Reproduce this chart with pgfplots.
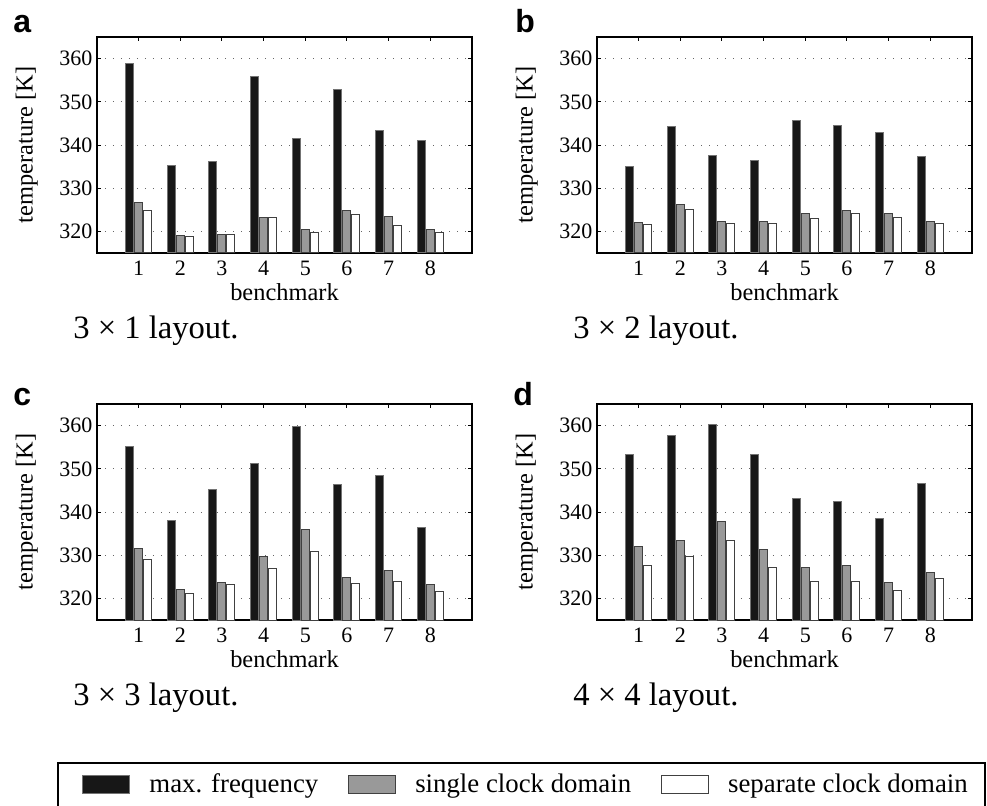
\documentclass[border=0pt]{standalone}
\usepackage{fontspec}
\setmainfont{Liberation Serif}
\setsansfont{Liberation Sans}
\usepackage{pgfplots}
\pgfplotsset{compat=1.18}

% values, in K
% columns: benchmark, max. frequency, single clock domain, separate clock domain
\pgfplotsset{
  panel/.style={
    scale only axis, width=187.5pt, height=108pt, anchor=north west,
    xmin=0, xmax=9, ymin=315, ymax=365,
    xtick={1,...,8}, ytick={320,330,...,360},
    ymajorgrids,
    grid style={black!60, line width=0.5pt, dash pattern=on 0.5pt off 3.5pt},
    tick align=inside, major tick length=2pt,
    tick style={black, line width=0.5pt},
    axis line style={line width=0.8pt},
    /pgf/number format/assume math mode=true,
    tick label style={font=\fontsize{11}{13}\selectfont},
    yticklabel style={xshift=1.2pt},
    xticklabel style={yshift=-0.5pt},
    xlabel={benchmark}, ylabel={temperature [K]},
    every axis x label/.style={at={(axis description cs:0.5,0)},anchor=base,yshift=-23.5pt,font=\fontsize{12.2}{14}\selectfont},
    every axis y label/.style={at={(axis description cs:-0.187,0.5)},rotate=90,anchor=center,font=\fontsize{12.2}{14}\selectfont},
  },
  mf/.style={ybar, bar width=4pt, bar shift=-4.5pt, fill=black!91, draw=black!55, line width=0.5pt},
  sc/.style={ybar, bar width=4pt, bar shift=0pt, fill=black!40, draw=black!75, line width=0.5pt},
  sp/.style={ybar, bar width=4pt, bar shift=4.5pt, fill=white, draw=black!75, line width=0.5pt},
}

\pgfplotstableread{
b  mf     sc     sp
1  358.8  326.6  324.9
2  335.3  319.0  318.8
3  336.2  319.2  319.2
4  355.8  323.2  323.2
5  341.5  320.4  319.7
6  352.8  324.8  324.0
7  343.3  323.4  321.3
8  341.0  320.5  319.7
}\dataA
\pgfplotstableread{
b  mf     sc     sp
1  335.0  322.0  321.5
2  344.2  326.2  325.0
3  337.5  322.2  321.9
4  336.3  322.2  321.8
5  345.6  324.1  322.9
6  344.6  324.8  324.1
7  343.0  324.1  323.2
8  337.3  322.4  321.8
}\dataB
\pgfplotstableread{
b  mf     sc     sp
1  355.1  331.6  328.9
2  338.1  322.1  321.2
3  345.3  323.7  323.3
4  351.3  329.7  327.0
5  359.8  336.0  330.9
6  346.4  324.9  323.5
7  348.4  326.5  324.0
8  336.5  323.2  321.7
}\dataC
\pgfplotstableread{
b  mf     sc     sp
1  353.4  332.0  327.6
2  357.8  333.4  329.8
3  360.3  337.8  333.5
4  353.3  331.3  327.1
5  343.2  327.1  323.9
6  342.5  327.7  324.0
7  338.4  323.7  321.9
8  346.6  326.1  324.6
}\dataD

\begin{document}
\begin{tikzpicture}
\useasboundingbox (0,0) rectangle (493.5pt,-402.5pt);

\begin{axis}[panel, at={(48.5pt,-18.5pt)}]
\addplot[mf] table[x=b,y=mf] {\dataA};
\addplot[sc] table[x=b,y=sc] {\dataA};
\addplot[sp] table[x=b,y=sp] {\dataA};
\end{axis}

\begin{axis}[panel, at={(298.5pt,-18.5pt)}]
\addplot[mf] table[x=b,y=mf] {\dataB};
\addplot[sc] table[x=b,y=sc] {\dataB};
\addplot[sp] table[x=b,y=sp] {\dataB};
\end{axis}

\begin{axis}[panel, at={(48.5pt,-202pt)}]
\addplot[mf] table[x=b,y=mf] {\dataC};
\addplot[sc] table[x=b,y=sc] {\dataC};
\addplot[sp] table[x=b,y=sp] {\dataC};
\end{axis}

\begin{axis}[panel, at={(298.5pt,-202pt)},
  legend columns=3,
  legend style={at={(axis description cs:-1.3733,-0.7639)}, anchor=west,
    draw=none, fill=none, inner sep=0pt,
    font=\fontsize{13.4}{16}\selectfont, cells={anchor=west},
    /tikz/every odd column/.append style={column sep=7.5pt},
    /tikz/every even column/.append style={column sep=13pt}},
  legend image code/.code={\draw[#1] (0pt,-4.5pt) rectangle (23.5pt,4.5pt);}]
\addplot[mf] table[x=b,y=mf] {\dataD};
\addplot[sc] table[x=b,y=sc] {\dataD};
\addplot[sp] table[x=b,y=sp] {\dataD};
\legend{max. frequency, single clock domain, separate clock domain}
\end{axis}

% panel letters and captions
\begin{scope}[every node/.style={inner sep=0pt, anchor=base west}]
\node[font=\sffamily\bfseries\fontsize{16}{18}\selectfont] at (6.5pt,-16pt) {a};
\node[font=\sffamily\bfseries\fontsize{16}{18}\selectfont] at (257.5pt,-16pt) {b};
\node[font=\sffamily\bfseries\fontsize{16}{18}\selectfont] at (6.5pt,-202.5pt) {c};
\node[font=\sffamily\bfseries\fontsize{16}{18}\selectfont] at (256.5pt,-202.5pt) {d};
\node[font=\fontsize{16.3}{19}\selectfont] at (36.5pt,-169pt) {3 × 1 layout.};
\node[font=\fontsize{16.3}{19}\selectfont] at (286.5pt,-169pt) {3 × 2 layout.};
\node[font=\fontsize{16.3}{19}\selectfont] at (36.5pt,-352.5pt) {3 × 3 layout.};
\node[font=\fontsize{16.3}{19}\selectfont] at (286.5pt,-352.5pt) {4 × 4 layout.};
\end{scope}

% legend frame, open at the bottom where the reference is cut off
\draw[line width=0.8pt] (29pt,-404pt) -- (29pt,-381.5pt) -- (492.5pt,-381.5pt) -- (492.5pt,-404pt);
\end{tikzpicture}
\end{document}
